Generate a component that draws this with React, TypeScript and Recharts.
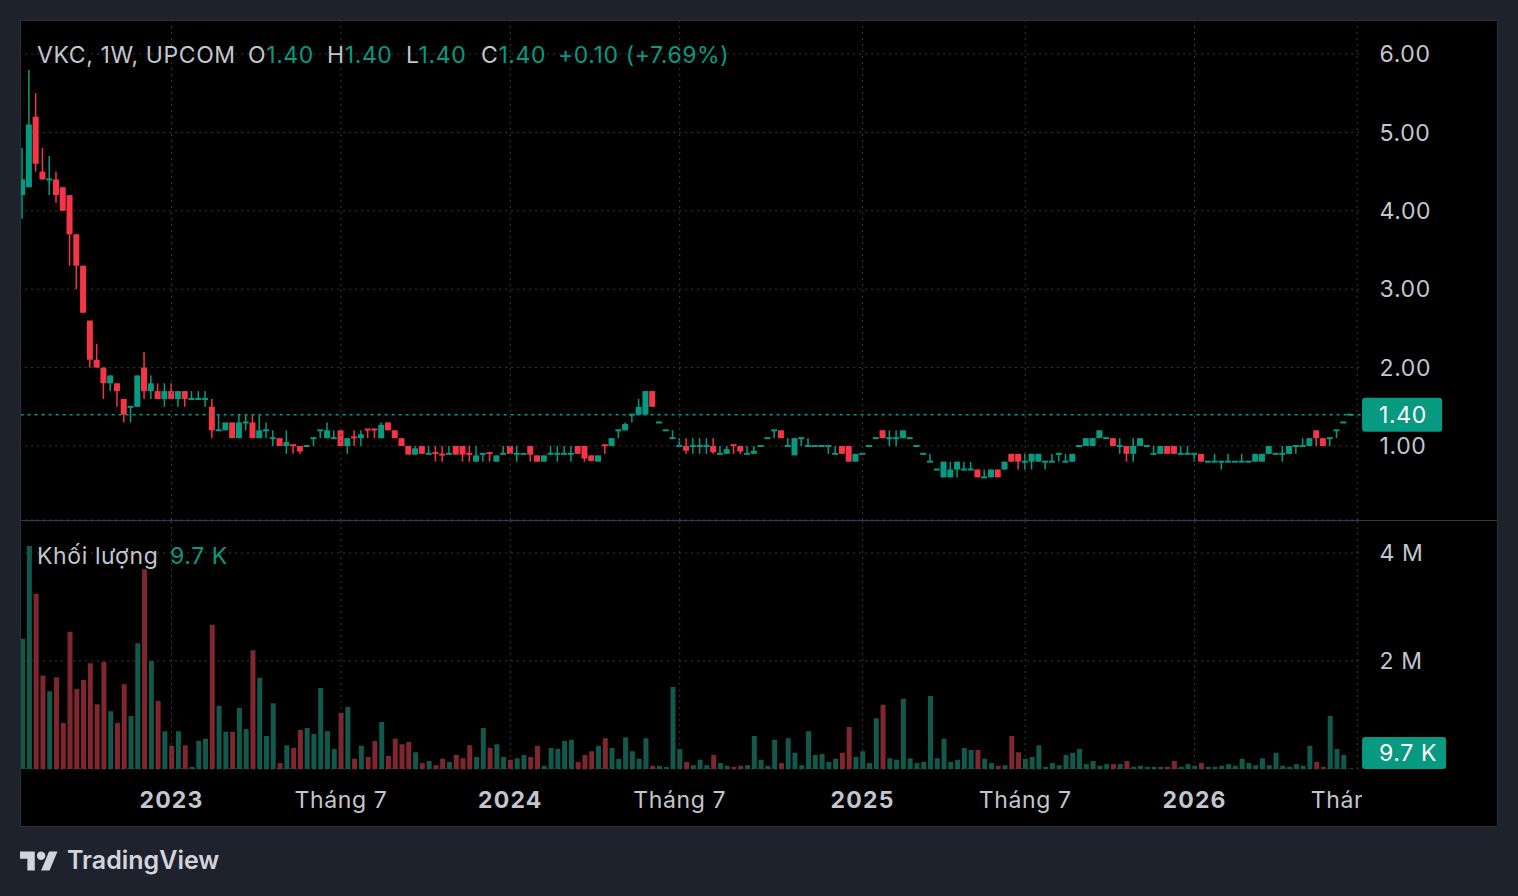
import React from "react";
import {
  Bar,
  CartesianGrid,
  Cell,
  ComposedChart,
  ReferenceLine,
  XAxis,
  YAxis,
} from "recharts";

const UP = "#089981";
const DOWN = "#f23645";
const UP_VOL = "#12594b";
const DOWN_VOL = "#7f272e";
const GRID = "#363a45";
const TEXT = "#c3c6ce";
const PAGE_BG = "#1e222d";
const FONT = "Inter, 'Noto Sans', Roboto, sans-serif";
const FS = 23;
const LS = 0.6;

// VKC weekly candles, oldest first (price in thousand VND)
const opens = [
  4.2, 4.3, 5.2, 4.5, 4.4, 4.4, 4.3, 4.2, 3.7, 3.3,
  2.6, 2.1, 2.0, 1.8, 1.8, 1.6, 1.5, 1.5, 2.0, 1.7,
  1.7, 1.6, 1.7, 1.6, 1.7, 1.6, 1.6, 1.6, 1.5, 1.2,
  1.2, 1.3, 1.1, 1.3, 1.3, 1.1, 1.2, 1.1, 1.1, 1.0,
  1.02, 1.0, 1.0, 1.1, 1.2, 1.1, 1.1, 1.2, 1.0, 1.12,
  1.1, 1.22, 1.22, 1.1, 1.3, 1.2, 1.1, 1.0, 0.89, 1.0,
  0.9, 0.92, 0.9, 0.9, 1.0, 1.0, 0.91, 0.8, 0.9, 0.92,
  0.8, 0.9, 1.0, 0.9, 0.9, 1.0, 0.88, 0.8, 0.9, 0.9,
  0.9, 0.9, 1.0, 1.0, 0.88, 0.8, 1.02, 1.0, 1.2, 1.2,
  1.4, 1.4, 1.4, 1.7, 1.3, 1.2, 1.1, 1.0, 1.0, 1.0,
  1.0, 1.0, 1.0, 0.9, 0.9, 1.02, 1.0, 0.9, 0.9, 1.0,
  1.1, 1.2, 1.2, 1.0, 0.88, 1.1, 1.0, 1.0, 1.0, 1.0,
  0.9, 1.0, 1.0, 0.8, 0.9, 1.0, 1.1, 1.2, 1.1, 1.1,
  1.1, 1.1, 1.0, 0.9, 0.8, 0.7, 0.6, 0.6, 0.7, 0.7,
  0.7, 0.7, 0.6, 0.6, 0.7, 0.7, 0.9, 0.9, 0.8, 0.8,
  0.8, 0.8, 0.8, 0.9, 0.8, 0.8, 1.0, 1.0, 1.0, 1.1,
  1.1, 1.1, 1.0, 1.0, 0.9, 1.0, 1.0, 0.9, 0.9, 1.0,
  1.0, 0.9, 0.9, 0.9, 0.9, 0.8, 0.8, 0.8, 0.8, 0.8,
  0.8, 0.8, 0.8, 0.8, 0.9, 0.9, 0.9, 0.9, 1.0, 1.0,
  1.0, 1.2, 1.1, 1.1, 1.2, 1.3, 1.4,
];
const highs = [
  4.8, 5.8, 5.5, 4.8, 4.7, 4.5, 4.3, 4.2, 3.7, 3.3,
  2.6, 2.3, 2.0, 1.9, 1.8, 1.6, 1.5, 1.9, 2.2, 1.9,
  1.8, 1.8, 1.8, 1.7, 1.7, 1.7, 1.7, 1.7, 1.6, 1.4,
  1.3, 1.3, 1.4, 1.4, 1.4, 1.4, 1.3, 1.2, 1.1, 1.2,
  1.02, 1.0, 1.0, 1.1, 1.2, 1.3, 1.2, 1.2, 1.1, 1.2,
  1.2, 1.22, 1.22, 1.3, 1.3, 1.2, 1.1, 1.0, 1.0, 1.0,
  1.0, 1.0, 1.0, 1.0, 1.0, 1.0, 1.0, 1.0, 0.9, 0.92,
  0.88, 1.0, 1.0, 1.0, 0.9, 1.0, 0.88, 0.88, 1.0, 1.0,
  1.0, 1.0, 1.0, 1.0, 0.88, 0.88, 1.02, 1.1, 1.2, 1.3,
  1.4, 1.6, 1.7, 1.7, 1.3, 1.2, 1.2, 1.1, 1.1, 1.1,
  1.1, 1.1, 1.1, 1.0, 1.0, 1.02, 1.0, 1.0, 1.0, 1.0,
  1.1, 1.2, 1.2, 1.1, 1.1, 1.1, 1.1, 1.0, 1.0, 1.0,
  1.0, 1.0, 1.0, 0.9, 0.9, 1.0, 1.1, 1.2, 1.2, 1.2,
  1.2, 1.1, 1.0, 0.9, 0.9, 0.7, 0.8, 0.8, 0.8, 0.8,
  0.8, 0.7, 0.7, 0.7, 0.7, 0.8, 0.9, 0.9, 0.9, 0.9,
  0.9, 0.8, 0.9, 0.9, 0.9, 0.9, 1.0, 1.1, 1.1, 1.2,
  1.1, 1.1, 1.1, 1.0, 1.1, 1.1, 1.0, 1.0, 1.0, 1.0,
  1.0, 1.0, 1.0, 0.9, 0.9, 0.8, 0.9, 0.8, 0.9, 0.8,
  0.9, 0.8, 0.9, 0.9, 1.0, 0.9, 1.0, 1.0, 1.0, 1.1,
  1.1, 1.2, 1.1, 1.1, 1.2, 1.3, 1.4,
];
const lows = [
  3.9, 4.3, 4.5, 4.4, 4.2, 4.1, 4.0, 3.3, 3.0, 2.7,
  2.0, 2.0, 1.6, 1.7, 1.5, 1.3, 1.3, 1.5, 1.6, 1.6,
  1.6, 1.5, 1.6, 1.5, 1.5, 1.6, 1.6, 1.5, 1.1, 1.2,
  1.2, 1.1, 1.1, 1.2, 1.1, 1.1, 1.1, 1.0, 1.0, 0.9,
  0.9, 0.9, 1.0, 1.0, 1.1, 1.1, 1.1, 1.0, 0.9, 1.0,
  1.0, 1.1, 1.1, 1.1, 1.2, 1.1, 1.0, 0.89, 0.89, 0.9,
  0.9, 0.8, 0.8, 0.9, 0.89, 0.8, 0.8, 0.8, 0.8, 0.8,
  0.8, 0.9, 0.9, 0.8, 0.9, 0.8, 0.8, 0.8, 0.9, 0.8,
  0.9, 0.8, 0.9, 0.8, 0.81, 0.8, 0.9, 1.0, 1.1, 1.2,
  1.3, 1.4, 1.4, 1.5, 1.3, 1.2, 1.1, 1.0, 0.9, 0.9,
  0.9, 0.9, 0.9, 0.9, 0.9, 0.9, 0.9, 0.9, 0.9, 1.0,
  1.1, 1.1, 1.1, 1.0, 0.88, 1.0, 1.0, 1.0, 1.0, 0.9,
  0.9, 0.9, 0.8, 0.8, 0.9, 1.0, 1.1, 1.1, 1.0, 1.0,
  1.1, 1.1, 1.0, 0.9, 0.8, 0.7, 0.6, 0.6, 0.6, 0.7,
  0.7, 0.6, 0.6, 0.6, 0.6, 0.7, 0.8, 0.7, 0.7, 0.7,
  0.8, 0.7, 0.8, 0.8, 0.8, 0.8, 1.0, 1.0, 1.0, 1.1,
  1.1, 1.0, 0.9, 0.8, 0.8, 1.0, 1.0, 0.9, 0.9, 0.9,
  0.9, 0.9, 0.9, 0.8, 0.8, 0.8, 0.8, 0.7, 0.8, 0.8,
  0.8, 0.8, 0.8, 0.8, 0.9, 0.9, 0.8, 0.9, 0.9, 1.0,
  1.0, 1.0, 1.0, 1.0, 1.1, 1.3, 1.4,
];
const closes = [
  4.4, 5.1, 4.6, 4.4, 4.4, 4.2, 4.0, 3.7, 3.3, 2.7,
  2.1, 2.0, 1.8, 1.9, 1.7, 1.4, 1.5, 1.9, 1.7, 1.8,
  1.6, 1.7, 1.6, 1.7, 1.6, 1.6, 1.6, 1.6, 1.2, 1.2,
  1.3, 1.1, 1.3, 1.3, 1.1, 1.2, 1.2, 1.1, 1.0, 1.05,
  1.0, 0.93, 1.0, 1.1, 1.2, 1.2, 1.1, 1.0, 1.1, 1.1,
  1.15, 1.2, 1.2, 1.27, 1.2, 1.1, 1.0, 0.89, 0.97, 0.9,
  0.9, 0.9, 0.88, 0.9, 0.89, 0.89, 0.89, 0.88, 0.9, 0.9,
  0.88, 0.9, 0.9, 0.9, 0.9, 0.89, 0.8, 0.88, 0.9, 0.9,
  0.9, 0.9, 0.9, 0.84, 0.81, 0.88, 1.0, 1.1, 1.2, 1.28,
  1.4, 1.5, 1.7, 1.5, 1.3, 1.2, 1.1, 1.0, 0.94, 1.0,
  1.0, 1.0, 0.92, 0.9, 0.96, 1.0, 0.93, 0.9, 0.94, 1.0,
  1.1, 1.2, 1.1, 1.0, 1.1, 1.1, 1.0, 1.0, 1.0, 1.0,
  0.9, 0.9, 0.8, 0.9, 0.9, 1.0, 1.1, 1.1, 1.1, 1.1,
  1.2, 1.1, 1.0, 0.9, 0.8, 0.7, 0.8, 0.7, 0.8, 0.7,
  0.7, 0.6, 0.6, 0.7, 0.6, 0.8, 0.8, 0.8, 0.8, 0.9,
  0.9, 0.8, 0.8, 0.9, 0.8, 0.9, 1.0, 1.1, 1.1, 1.2,
  1.1, 1.0, 1.0, 0.9, 1.0, 1.1, 1.0, 0.9, 1.0, 0.9,
  0.9, 0.9, 0.9, 0.9, 0.8, 0.8, 0.8, 0.8, 0.8, 0.8,
  0.8, 0.8, 0.9, 0.9, 1.0, 0.9, 0.9, 1.0, 1.0, 1.0,
  1.1, 1.1, 1.0, 1.1, 1.2, 1.3, 1.4,
];
// weekly volume, millions of shares
const volumeM = [
  2.41, 4.13, 3.24, 1.73, 1.44, 1.70, 0.85, 2.54, 1.48, 1.65,
  1.96, 1.20, 1.98, 1.07, 0.85, 1.57, 0.98, 2.33, 3.70, 2.00,
  1.26, 0.70, 0.43, 0.70, 0.44, 0.04, 0.52, 0.56, 2.67, 1.17,
  0.69, 0.69, 1.13, 0.74, 2.20, 1.69, 0.61, 1.22, 0.11, 0.44,
  0.39, 0.72, 0.76, 0.65, 1.50, 0.70, 0.37, 1.04, 1.15, 0.19,
  0.43, 0.22, 0.52, 0.87, 0.24, 0.56, 0.46, 0.50, 0.31, 0.11,
  0.15, 0.07, 0.19, 0.13, 0.26, 0.20, 0.44, 0.22, 0.76, 0.39,
  0.46, 0.22, 0.17, 0.20, 0.26, 0.22, 0.43, 0.06, 0.39, 0.37,
  0.52, 0.54, 0.13, 0.26, 0.33, 0.43, 0.57, 0.39, 0.19, 0.59,
  0.33, 0.19, 0.57, 0.06, 0.06, 0.04, 1.52, 0.37, 0.13, 0.07,
  0.17, 0.07, 0.26, 0.11, 0.06, 0.04, 0.06, 0.07, 0.61, 0.17,
  0.06, 0.54, 0.11, 0.57, 0.30, 0.07, 0.70, 0.26, 0.28, 0.13,
  0.19, 0.30, 0.78, 0.22, 0.33, 0.11, 0.94, 1.19, 0.20, 0.17,
  1.30, 0.20, 0.11, 0.13, 1.35, 0.20, 0.56, 0.13, 0.17, 0.39,
  0.35, 0.35, 0.19, 0.11, 0.06, 0.07, 0.61, 0.31, 0.19, 0.22,
  0.44, 0.04, 0.11, 0.07, 0.26, 0.30, 0.37, 0.09, 0.15, 0.06,
  0.09, 0.09, 0.09, 0.15, 0.04, 0.06, 0.04, 0.04, 0.04, 0.04,
  0.15, 0.04, 0.09, 0.06, 0.11, 0.04, 0.04, 0.06, 0.09, 0.06,
  0.19, 0.11, 0.07, 0.20, 0.07, 0.30, 0.06, 0.04, 0.09, 0.06,
  0.43, 0.13, 0.04, 0.98, 0.37, 0.26, 0.0097,
];

// time axis: bar index of each label (last one is a future slot)
const tickIdx = [22, 47, 72, 97, 124, 148, 173, 197];
const tickLabels = ["2023", "Tháng 7", "2024", "Tháng 7", "2025", "Tháng 7", "2026", "Tháng 7"];
const priceTicks = [1, 2, 3, 4, 5, 6];
const volTicks = [2, 4];

const SLOTS = 198;
const PLOT_L = 19.1;
const AXIS_W = 157.4;
const PRICE_DOMAIN: [number, number] = [0.0561, 6.4337];
const VOL_DOMAIN: [number, number] = [0, 4.593];

const rows = Array.from({ length: SLOTS }, (_, i) =>
  i < opens.length
    ? {
        i,
        o: opens[i],
        h: highs[i],
        l: lows[i],
        c: closes[i],
        range: [lows[i], highs[i]],
        v: volumeM[i],
      }
    : { i, range: null, v: null }
);

const last = opens.length - 1;
const lastClose = closes[last];
const change = closes[last] - closes[last - 1];
const changePct = (change / closes[last - 1]) * 100;

function fmtVol(v: number) {
  if (v >= 1) return `${+v.toFixed(2)} M`;
  return `${(v * 1000).toFixed(1)} K`;
}

function Candle(props: any) {
  const { x, y, width, height, payload } = props;
  if (!payload || payload.o == null) return null;
  const { o, h, l, c } = payload;
  const color = c >= o ? UP : DOWN;
  const cx = x + width / 2;
  const span = h - l;
  const k = span > 0 ? height / span : 0;
  const yOf = (v: number) => y + (h - v) * k;
  const top = yOf(Math.max(o, c));
  const bot = yOf(Math.min(o, c));
  const thin = bot - top < 2;
  const bodyY = thin ? (top + bot) / 2 - 1 : top;
  const bodyH = thin ? 2 : bot - top;
  return (
    <g>
      {span > 0 && (
        <rect x={cx - 0.75} y={y} width={1.5} height={height} fill={color} />
      )}
      <rect x={x} y={bodyY} width={width} height={bodyH} fill={color} />
    </g>
  );
}

function Tag({ viewBox, text, clampBottom }: any) {
  if (!viewBox) return null;
  const bx = viewBox.x + viewBox.width + 1.5;
  const h = clampBottom ? 32 : 34;
  let by = viewBox.y - h / 2;
  if (clampBottom != null && by + h > clampBottom) by = clampBottom - h;
  return (
    <g>
      <rect x={bx} y={by} width={clampBottom ? 84 : 80} height={h} rx={3} fill={UP} />
      <text
        x={bx + 17}
        y={by + h / 2}
        dy="0.36em"
        fill="#ffffff"
        fontSize={FS}
        letterSpacing={LS}
        fontFamily={FONT}
      >
        {text}
      </text>
    </g>
  );
}

function TimeTick({ x, y, payload }: any) {
  const k = tickIdx.indexOf(Number(payload.value));
  const label = k >= 0 ? tickLabels[k] : "";
  const isYear = /^\d{4}$/.test(label);
  return (
    <text
      x={x}
      y={y}
      dy="0.71em"
      textAnchor="middle"
      fill={TEXT}
      fontSize={FS}
      fontWeight={isYear ? 700 : 400}
      letterSpacing={isYear ? 1.2 : LS}
      fontFamily={FONT}
    >
      {label}
    </text>
  );
}

const axisTick = { fill: TEXT, fontSize: FS, fontFamily: FONT, letterSpacing: LS };

export default function App() {
  const tv = {
    position: "absolute" as const,
    whiteSpace: "nowrap" as const,
    fontFamily: FONT,
    fontSize: FS,
    letterSpacing: LS,
    lineHeight: "23px",
    color: TEXT,
  };
  const teal = { color: UP };
  return (
    <div style={{ position: "absolute", left: 0, top: 0, width: 1518, height: 896, background: PAGE_BG, overflow: "hidden" }}>
      <div
        style={{
          position: "absolute",
          left: 20,
          top: 20,
          width: 1478,
          height: 807,
          boxSizing: "border-box",
          border: "1px solid #2a2e39",
          background: "#000",
          overflow: "hidden",
        }}
      >
        <div style={{ position: "absolute", left: -21, top: -21 }}>
          <ComposedChart
            width={1518}
            height={540}
            data={rows}
            margin={{ top: 20, right: 0, bottom: 20, left: PLOT_L }}
          >
            <CartesianGrid vertical={false} stroke={GRID} strokeDasharray="2 4" />
            <XAxis dataKey="i" type="category" hide />
            <YAxis
              orientation="right"
              width={AXIS_W}
              domain={PRICE_DOMAIN}
              allowDataOverflow
              ticks={priceTicks}
              tickFormatter={(v) => Number(v).toFixed(2)}
              axisLine={false}
              tickLine={false}
              tickSize={0}
              tickMargin={19}
              tick={axisTick}
            />
            {tickIdx.map((t) => (
              <ReferenceLine key={t} x={t} stroke={GRID} strokeDasharray="2 4" />
            ))}
            <Bar
              dataKey="range"
              barSize={6}
              isAnimationActive={false}
              shape={(p: any) => <Candle {...p} />}
            />
            <ReferenceLine
              y={lastClose}
              stroke={UP}
              strokeDasharray="3 4"
              strokeWidth={1.5}
              label={(p: any) => <Tag viewBox={p.viewBox} text={lastClose.toFixed(2)} />}
            />
          </ComposedChart>
        </div>
        <div style={{ position: "absolute", left: -21, top: -21 }}>
          <ComposedChart
            width={1518}
            height={896}
            data={rows}
            margin={{ top: 521, right: 0, bottom: 87, left: PLOT_L }}
          >
            <CartesianGrid vertical={false} stroke={GRID} strokeDasharray="2 4" />
            <XAxis
              dataKey="i"
              type="category"
              height={40}
              ticks={tickIdx}
              interval={0}
              axisLine={false}
              tickLine={false}
              tickSize={0}
              tickMargin={23}
              tick={(p: any) => <TimeTick {...p} />}
            />
            <YAxis
              orientation="right"
              width={AXIS_W}
              domain={VOL_DOMAIN}
              allowDataOverflow
              ticks={volTicks}
              tickFormatter={(v) => `${v} M`}
              axisLine={false}
              tickLine={false}
              tickSize={0}
              tickMargin={19}
              tick={axisTick}
            />
            {tickIdx.map((t) => (
              <ReferenceLine key={t} x={t} stroke={GRID} strokeDasharray="2 4" />
            ))}
            <Bar dataKey="v" barSize={5} isAnimationActive={false}>
              {rows.map((r: any) => (
                <Cell key={r.i} fill={r.c != null && r.c < r.o ? DOWN_VOL : UP_VOL} />
              ))}
            </Bar>
            <ReferenceLine
              y={volumeM[last]}
              stroke="none"
              label={(p: any) => (
                <Tag viewBox={p.viewBox} text={fmtVol(volumeM[last])} clampBottom={769} />
              )}
            />
          </ComposedChart>
        </div>
        {/* pane separator */}
        <div style={{ position: "absolute", left: 0, top: 499, width: 1478, height: 1, background: GRID }} />
        {/* hide the part of the last time label that runs under the price scale */}
        <div style={{ position: "absolute", left: 1341, top: 755, width: 140, height: 50, background: "#000" }} />
      </div>

      {/* legend */}
      <div style={{ ...tv, left: 37, top: 44 }}>VKC, 1W, UPCOM</div>
      <div style={{ ...tv, left: 248, top: 44 }}>O<span style={teal}>{opens[last].toFixed(2)}</span></div>
      <div style={{ ...tv, left: 327, top: 44 }}>H<span style={teal}>{highs[last].toFixed(2)}</span></div>
      <div style={{ ...tv, left: 406, top: 44 }}>L<span style={teal}>{lows[last].toFixed(2)}</span></div>
      <div style={{ ...tv, left: 481, top: 44 }}>C<span style={teal}>{closes[last].toFixed(2)}</span></div>
      <div style={{ ...tv, left: 558, top: 44, ...teal }}>
        {`+${change.toFixed(2)} (+${changePct.toFixed(2)}%)`}
      </div>
      <div style={{ ...tv, left: 37, top: 545 }}>Khối lượng</div>
      <div style={{ ...tv, left: 170, top: 545, ...teal }}>{fmtVol(volumeM[last])}</div>

      {/* TradingView mark */}
      <svg style={{ position: "absolute", left: 20, top: 847 }} width={38} height={30} viewBox="0 0 36 28">
        <path d="M14 22H7V11H0V4h14v18zM28 22h-8l7.5-18h8L28 22z" fill="#d1d4dc" />
        <circle cx="20" cy="8" r="4" fill="#d1d4dc" />
      </svg>
      <div style={{ ...tv, left: 67, top: 847, fontSize: 25, lineHeight: "26px", letterSpacing: 0, fontWeight: 600, color: "#d1d4dc" }}>
        TradingView
      </div>
    </div>
  );
}
